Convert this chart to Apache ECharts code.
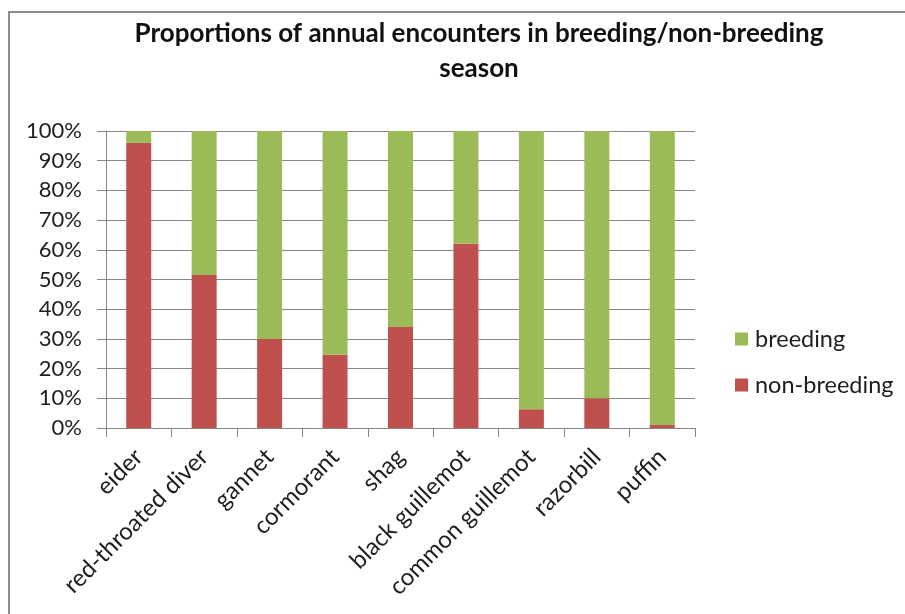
<!DOCTYPE html>
<html>
<head>
<meta charset="utf-8">
<script src="https://cdn.jsdelivr.net/npm/echarts@6/dist/echarts.min.js"></script>
<style>
  html, body { margin: 0; padding: 0; background: #ffffff; }
  #chart { width: 905px; height: 614px; }
</style>
</head>
<body>
<div id="chart"></div>
<script>
// Species surveyed
const species = [
  'eider', 'red-throated diver', 'gannet', 'cormorant', 'shag',
  'black guillemot', 'common guillemot', 'razorbill', 'puffin'
];
// Share of annual encounters (%) per season
const nonBreeding = [96, 51.5, 30, 24.7, 34, 62, 6.3, 10, 1];
const breeding    = [4, 48.5, 70, 75.3, 66, 38, 93.7, 90, 99];
// Percentage axis
const yMin = 0, yMax = 100, yStep = 10;

const FONT = 'Lato, "Liberation Sans", sans-serif';
const GRAY = '#868686';
const TEXT = '#1e1e1e';

const chart = echarts.init(document.getElementById('chart'), null, { renderer: 'canvas' });

chart.setOption({
  animation: false,
  backgroundColor: '#ffffff',
  textStyle: { fontFamily: FONT },
  grid: { left: 106, right: 210, top: 131, bottom: 186, containLabel: false },
  graphic: [
    {
      type: 'rect',
      shape: { x: 9, y: 12, width: 1000, height: 1000 },
      style: { fill: 'none', stroke: '#8c8c8c', lineWidth: 2 },
      silent: true
    },
    {
      type: 'text',
      x: 479, y: 16,
      style: {
        text: 'Proportions of annual encounters in breeding/non-breeding\nseason',
        fontFamily: FONT,
        fontWeight: 'bold',
        fontSize: 26,
        lineHeight: 35,
        fill: '#111',
        align: 'center',
        verticalAlign: 'top'
      }
    }
  ],
  legend: {
    orient: 'vertical',
    left: 735,
    top: 326,
    padding: 0,
    icon: 'rect',
    itemWidth: 13,
    itemHeight: 13,
    itemGap: 20,
    data: ['breeding', 'non-breeding'],
    textStyle: { fontFamily: FONT, fontSize: 23.5, color: TEXT, lineHeight: 26, padding: [0, 0, 0, 2] }
  },
  xAxis: {
    type: 'category',
    data: species,
    axisLine: { show: true, lineStyle: { color: GRAY, width: 1 } },
    axisTick: { show: true, length: 9, alignWithLabel: false, lineStyle: { color: GRAY } },
    axisLabel: {
      interval: 0,
      rotate: 45,
      margin: 25,
      fontFamily: FONT,
      fontSize: 24,
      color: TEXT
    },
    splitLine: { show: false }
  },
  yAxis: {
    type: 'value',
    min: yMin,
    max: yMax,
    interval: yStep,
    axisLine: { show: true, lineStyle: { color: GRAY, width: 1 } },
    axisTick: { show: true, length: 9, inside: false, lineStyle: { color: GRAY } },
    axisLabel: {
      formatter: '{value}%',
      margin: 24,
      fontFamily: FONT,
      fontSize: 22,
      color: TEXT
    },
    splitLine: { show: true, lineStyle: { color: GRAY, width: 1 } }
  },
  series: [
    {
      name: 'non-breeding',
      type: 'bar',
      stack: 'season',
      barWidth: 25,
      itemStyle: { color: '#C0504D' },
      data: nonBreeding
    },
    {
      name: 'breeding',
      type: 'bar',
      stack: 'season',
      barWidth: 25,
      itemStyle: { color: '#9BBB59' },
      data: breeding
    }
  ]
});
</script>
</body>
</html>
